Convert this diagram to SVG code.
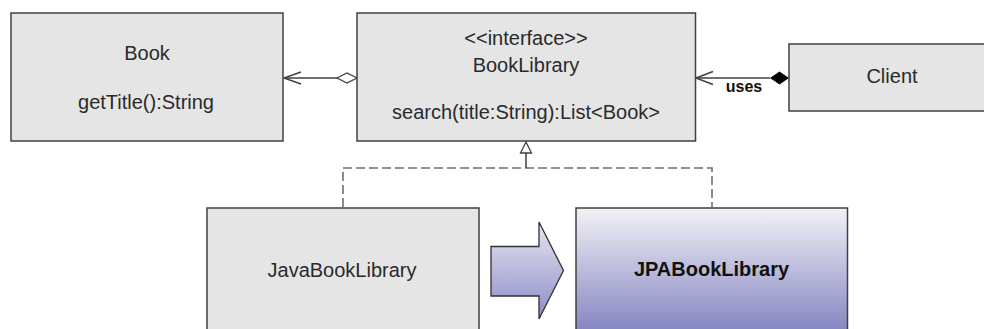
<svg xmlns="http://www.w3.org/2000/svg" width="984" height="329" viewBox="0 0 984 329">
  <style>
    .box { fill: #e5e5e5; stroke: #404040; stroke-width: 1.5; }
    .lbl { font-family: "Liberation Sans", Arial, sans-serif; font-size: 20px; fill: #2a2a2a; text-anchor: middle; }
    .bold { font-weight: bold; fill: #111; }
    .line { fill: none; stroke: #404040; stroke-width: 1.5; }
    .dash { fill: none; stroke: #707070; stroke-width: 1.6; stroke-dasharray: 9 4; }
  </style>
  <defs>
    <linearGradient id="jpaFill" x1="0" y1="0" x2="0" y2="1">
      <stop offset="0" stop-color="#f2f2f6"/>
      <stop offset="1" stop-color="#7676bb"/>
    </linearGradient>
    <linearGradient id="arrowFill" x1="0" y1="0" x2="0" y2="1">
      <stop offset="0" stop-color="#e6e6f0"/>
      <stop offset="1" stop-color="#8c8cc8"/>
    </linearGradient>
  </defs>
  <rect width="984" height="329" fill="#ffffff"/>

  <g id="connectors">
    <!-- aggregation: BookLibrary holds Book -->
    <line class="line" x1="284" y1="78" x2="337" y2="78"/>
    <polyline class="line" points="301,72 284,78 301,84"/>
    <polygon points="337,78 347,73 357,78 347,83" fill="#ffffff" stroke="#404040" stroke-width="1.3"/>

    <!-- composition: Client uses BookLibrary -->
    <line class="line" x1="696" y1="78" x2="770" y2="78"/>
    <polyline class="line" points="713,71.5 696,78 713,84.5"/>
    <polygon points="770,78 779.5,71.5 789,78 779.5,84.5" fill="#000000"/>
    <text class="lbl bold" x="744" y="92" style="font-size:16px">uses</text>

    <!-- realization of BookLibrary -->
    <path class="dash" d="M343,207 V168 H712 V207"/>
    <line class="line" x1="526" y1="168" x2="526" y2="153"/>
    <polygon points="526,142 531.5,153 520.5,153" fill="#ffffff" stroke="#404040" stroke-width="1.3"/>

    <!-- block arrow between the implementations -->
    <polygon points="491,246.5 539,246.5 539,222 563.5,270.5 539,319 539,296 491,296" fill="url(#arrowFill)" stroke="#303030" stroke-width="1.3"/>
  </g>

  <g id="book">
    <rect class="box" x="11" y="13" width="272" height="128"/>
    <text class="lbl" x="147" y="60">Book</text>
    <text class="lbl" x="146" y="109">getTitle():String</text>
  </g>

  <g id="bookLibrary">
    <rect class="box" x="357" y="13" width="338.5" height="128"/>
    <text class="lbl" x="526" y="45">&lt;&lt;interface&gt;&gt;</text>
    <text class="lbl" x="526" y="72">BookLibrary</text>
    <text class="lbl" x="526" y="119">search(title:String):List&lt;Book&gt;</text>
  </g>

  <g id="client">
    <rect class="box" x="789" y="44" width="206" height="67"/>
    <text class="lbl" x="892" y="83">Client</text>
  </g>

  <g id="javaBookLibrary">
    <rect class="box" x="207" y="208" width="272" height="140"/>
    <text class="lbl" x="342" y="277">JavaBookLibrary</text>
  </g>

  <g id="jpaBookLibrary">
    <rect x="576" y="208" width="271.5" height="140" fill="url(#jpaFill)" stroke="#404040" stroke-width="1.5"/>
    <text class="lbl bold" x="711.5" y="276">JPABookLibrary</text>
  </g>
</svg>
